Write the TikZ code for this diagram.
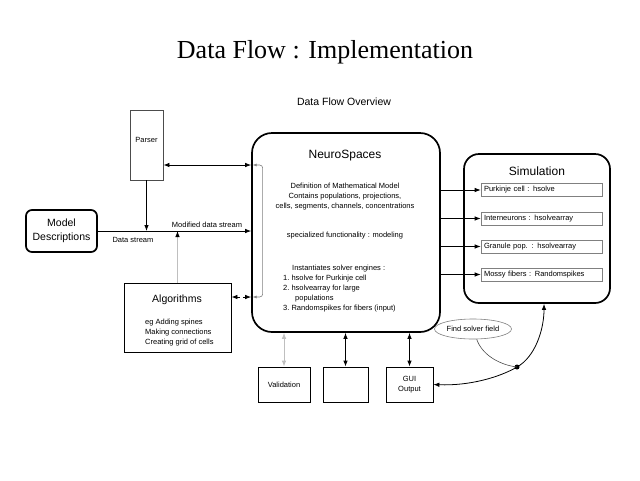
\documentclass[tikz,border=0pt]{standalone}
\usepackage{fontspec}
\setmainfont{Liberation Sans}
\newfontfamily\titlefont{Liberation Serif}
\usetikzlibrary{arrows.meta,shapes.geometric}

\begin{document}
\begin{tikzpicture}[x=1pt,y=-1pt,
	>={Latex[length=6pt,width=4.5pt]},
	tiny/.style={font=\fontsize{7.5}{10}\selectfont},
	mid/.style={font=\fontsize{10.5}{14}\selectfont},
	big/.style={font=\fontsize{12}{14}\selectfont},
	plainbox/.style={draw, line width=0.8pt, inner sep=0pt},
	roundbox/.style={draw, line width=1.7pt, rounded corners=#1, inner sep=0pt},
	solverbox/.style={draw=gray, line width=0.6pt, minimum width=121pt, minimum height=13pt, inner sep=0pt, text width=115pt, align=left, tiny}]
	\useasboundingbox (0,0) rectangle (640,480);
	\node[font=\titlefont\fontsize{26}{30}\selectfont] (title) at (325,52) {Data Flow : Implementation};
	\node[mid] (overview) at (344,102) {Data Flow Overview};
	\node[plainbox, draw=black!70, minimum width=33pt, minimum height=70pt] (parser) at (146.5,145) {};
	\node[tiny] (parserlabel) at (146.5,140) {Parser};
	\node[roundbox=6pt, minimum width=71pt, minimum height=42pt, align=center, mid] (model) at (61.5,231) {Model\\Descriptions};
	\node[roundbox=20pt, minimum width=188pt, minimum height=199pt] (neuro) at (346,232.5) {};
	\node[big] (neurotitle) at (345,156) {NeuroSpaces};
	\node[tiny, align=center] (definition) at (345,197) {Definition of Mathematical Model\\Contains populations, projections,\\cells, segments, channels, concentrations};
	\node[tiny] (special) at (345,236) {specialized functionality : modeling};
	\node[tiny, align=left, anchor=north west, inner sep=0pt] (engines) at (283,265) {\hspace{9pt}Instantiates solver engines :\\1.~hsolve for Purkinje cell\\2.~hsolvearray for large\\\hspace{12pt}populations\\3.~Randomspikes for fibers (input)};
	\node[roundbox=15pt, minimum width=146pt, minimum height=149pt] (sim) at (537,228.5) {};
	\node[big] (simtitle) at (537,171) {Simulation};
	\node[solverbox] (purkinje) at (541.5,190) {Purkinje cell : hsolve};
	\node[solverbox] (inter) at (541.5,218.5) {Interneurons : hsolvearray};
	\node[solverbox] (granule) at (541.5,246.5) {Granule pop. : hsolvearray};
	\node[solverbox] (mossy) at (541.5,274.5) {Mossy fibers : Randomspikes};
	\node[plainbox, minimum width=107pt, minimum height=69pt] (algo) at (177.5,318) {};
	\node[mid] (algotitle) at (177,300) {Algorithms};
	\node[tiny, align=left, anchor=north west, inner sep=0pt] (algotext) at (145,319) {eg Adding spines\\Making connections\\Creating grid of cells};
	\node[plainbox, minimum width=52pt, minimum height=35pt, tiny] (valid) at (284,384.5) {Validation};
	\node[plainbox, minimum width=45pt, minimum height=35pt] (blank) at (345.5,384.5) {};
	\node[plainbox, minimum width=47pt, minimum height=35pt, tiny, align=center] (gui) at (409.5,384.5) {GUI\\Output};
	\node[ellipse, draw=gray, fill=white, line width=0.6pt, minimum width=77pt, minimum height=20pt, inner sep=0pt, tiny] (find) at (473,329) {Find solver field};
	\coordinate (junction) at (517,367);
	\fill (junction) circle (2.5pt);

	\node[tiny] (datastream) at (133,240) {Data stream};
	\node[tiny] (modified) at (207,225) {Modified data stream};
	\draw[->, line width=0.8pt] (model.east) -- (model.east -| neuro.west);
	\draw[->, line width=0.8pt] (parser.south) -- (parser.south |- model.east);
	\draw[-{Latex[length=6pt,width=4.5pt,color=black]}, gray!50, line width=0.8pt] (algo.north) -- (algo.north |- model.east);

	\coordinate (parserport) at ([yshift=-20pt]parser.east);
	\coordinate (algoport) at ([yshift=21pt]algo.east);
	\coordinate (bracktop) at (parserport -| neuro.west);
	\coordinate (brackbot) at (algoport -| neuro.west);
	\draw[<->, line width=0.8pt] (parserport) -- (bracktop);
	\draw[<->, dashed, line width=0.8pt] (algoport) -- (brackbot);
	\draw[gray, line width=0.6pt, rounded corners=3pt, {Latex[length=4pt,width=3pt]}-{Latex[length=4pt,width=3pt]}] ([xshift=1.5pt]bracktop) -- ++(10,0) |- ([xshift=1.5pt]brackbot);

	\foreach \slot in {purkinje,inter,granule,mossy}
		\draw[->, line width=0.8pt] (\slot.west -| neuro.east) -- (\slot.west);

	\draw[<->, gray!50, line width=0.8pt] (valid.north |- neuro.south) -- (valid.north);
	\draw[<->, line width=0.8pt] (blank.north |- neuro.south) -- (blank.north);
	\draw[<->, line width=0.8pt] (gui.north |- neuro.south) -- (gui.north);

	\coordinate (simport) at ([xshift=7pt]sim.south);
	\draw[<->, line width=0.8pt] (gui.east) .. controls (470,386) and (500,377) .. (junction) .. controls (535,357) and (544,330) .. (simport);
	\draw[black!70, line width=0.6pt] (find.290) .. controls (482,355) and (500,365) .. (junction);
\end{tikzpicture}
\end{document}
